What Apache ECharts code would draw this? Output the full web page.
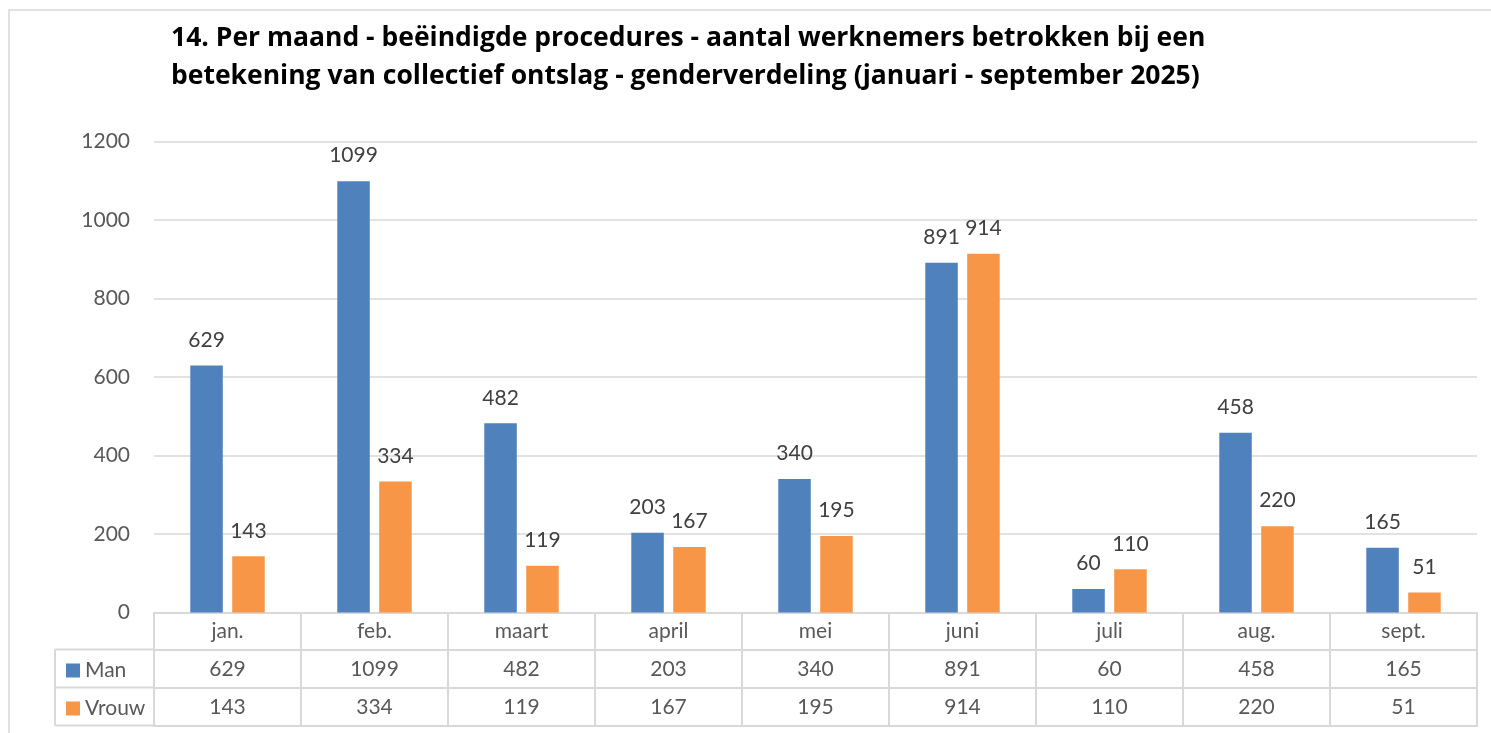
<!DOCTYPE html>
<html><head><meta charset="utf-8">
<script src="https://cdn.jsdelivr.net/npm/echarts@6/dist/echarts.min.js"></script>
<style>html,body{margin:0;padding:0;background:#fff;}#c{width:1491px;height:733px;}</style>
</head><body><div id="c"></div>
<script>
const titleText = '14. Per maand - beëindigde procedures - aantal werknemers betrokken bij een\nbetekening van collectief ontslag - genderverdeling (januari - september 2025)';
const months = ['jan.', 'feb.', 'maart', 'april', 'mei', 'juni', 'juli', 'aug.', 'sept.'];
const man = [629, 1099, 482, 203, 340, 891, 60, 458, 165];
const vrouw = [143, 334, 119, 167, 195, 914, 110, 220, 51];
const yTicks = [0, 200, 400, 600, 800, 1000, 1200];

const FONT = 'Lato';
const GRAY = '#d9d9d9';
const chart = echarts.init(document.getElementById('c'), null, {renderer: 'canvas'});

function lineAxis(off) {
  return {
    type: 'category', data: months, position: 'bottom', offset: off, gridIndex: 0,
    axisLine: {show: true, lineStyle: {color: GRAY, width: 2}},
    axisTick: {show: false}, axisLabel: {show: false}, splitLine: {show: false}
  };
}

chart.setOption({
  animation: false,
  textStyle: {fontFamily: FONT},
  title: {
    text: titleText, left: 166, top: 14,
    textStyle: {fontFamily: 'Open Sans', fontWeight: 'bold', fontSize: 26.5, lineHeight: 38, color: '#000'}
  },
  legend: [
    {data: ['Man'], orient: 'vertical', left: 61, top: 655, icon: 'rect', itemWidth: 14, itemHeight: 14,
     textStyle: {color: '#595959', fontSize: 21, fontFamily: FONT}},
    {data: ['Vrouw'], orient: 'vertical', left: 61, top: 693, icon: 'rect', itemWidth: 14, itemHeight: 14,
     textStyle: {color: '#595959', fontSize: 21, fontFamily: FONT}}
  ],
  grid: {left: 154, right: 14, top: 141.5, bottom: 120.5},
  xAxis: [
    {
      type: 'category', data: months, position: 'bottom',
      axisLine: {show: true, lineStyle: {color: GRAY, width: 2}},
      axisTick: {show: true, length: 113, lineStyle: {color: GRAY, width: 2}},
      axisLabel: {
        margin: 0, color: '#595959', fontSize: 21, lineHeight: 38, fontFamily: FONT,
        formatter: function (v, i) { return v + '\n' + man[i] + '\n' + vrouw[i]; }
      }
    },
    lineAxis(37), lineAxis(75), lineAxis(113)
  ],
  yAxis: {
    type: 'value', min: yTicks[0], max: yTicks[yTicks.length - 1], interval: 200,
    axisLine: {show: false}, axisTick: {show: false},
    axisLabel: {color: '#595959', fontSize: 21, margin: 24, fontFamily: FONT,
                formatter: function (v) { return String(v); }},
    splitLine: {lineStyle: {color: GRAY, width: 1.5}}
  },
  series: [
    {name: 'Man', type: 'bar', data: man, barWidth: 32.5, barGap: '29%',
     itemStyle: {color: '#4f81bd'},
     label: {show: true, position: 'top', distance: 15, color: '#404040', fontSize: 21, fontFamily: FONT}},
    {name: 'Vrouw', type: 'bar', data: vrouw, barWidth: 32.5, barGap: '29%',
     itemStyle: {color: '#f79646'},
     label: {show: true, position: 'top', distance: 15, color: '#404040', fontSize: 21, fontFamily: FONT}}
  ],
  graphic: [
    {type: 'rect', shape: {x: 9, y: 10, width: 1600, height: 800}, style: {fill: null, stroke: GRAY, lineWidth: 1.5}, silent: true},
    {type: 'line', shape: {x1: 55, y1: 649.5, x2: 154, y2: 649.5}, style: {stroke: GRAY, lineWidth: 2}, silent: true},
    {type: 'line', shape: {x1: 55, y1: 687.5, x2: 154, y2: 687.5}, style: {stroke: GRAY, lineWidth: 2}, silent: true},
    {type: 'line', shape: {x1: 55, y1: 725.5, x2: 154, y2: 725.5}, style: {stroke: GRAY, lineWidth: 2}, silent: true},
    {type: 'line', shape: {x1: 55, y1: 649.5, x2: 55, y2: 725.5}, style: {stroke: GRAY, lineWidth: 2}, silent: true}
  ]
});
</script></body></html>
